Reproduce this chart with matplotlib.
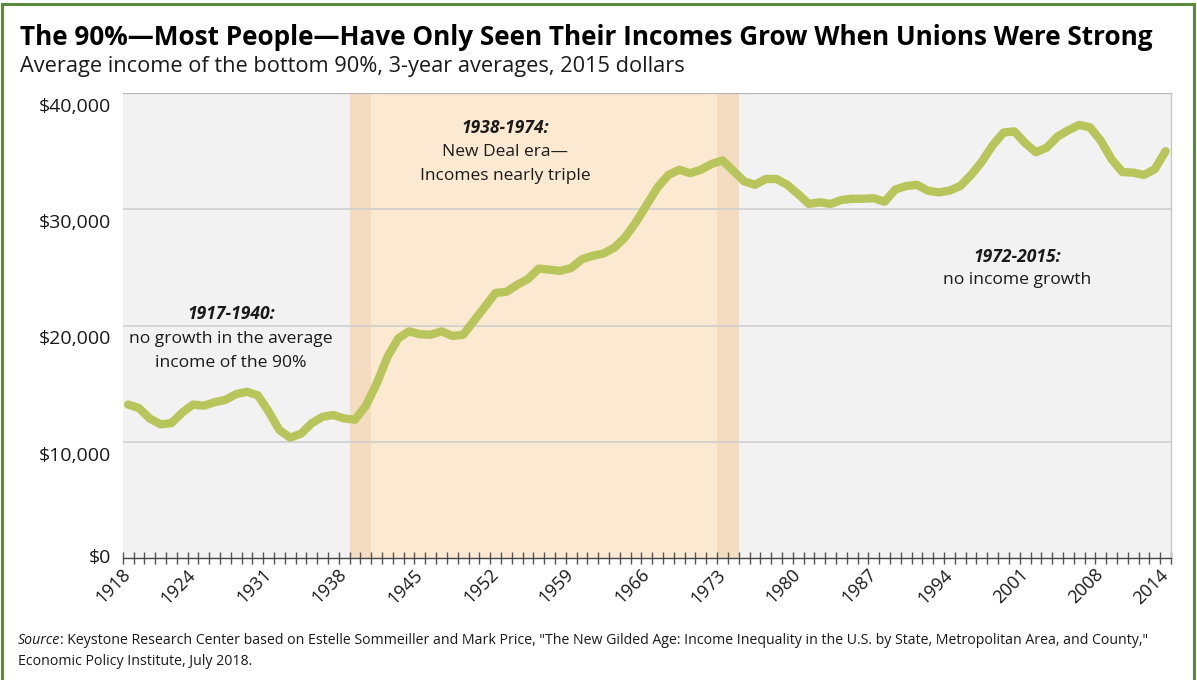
import matplotlib
matplotlib.use("Agg")
import matplotlib.pyplot as plt
from matplotlib.patches import Rectangle
from matplotlib.transforms import ScaledTranslation, blended_transform_factory

# ---------------- data ----------------
years = list(range(1918, 2015))
income_k = [
    13.2, 12.9, 12.0, 11.5, 11.6, 12.5, 13.2, 13.1, 13.4, 13.6,   # 1918-1927
    14.1, 14.3, 14.0, 12.6, 11.0, 10.35, 10.7, 11.6, 12.15, 12.3,  # 1928-1937
    12.0, 11.9, 13.1, 15.0, 17.3, 18.9, 19.5, 19.25, 19.2, 19.5,   # 1938-1947
    19.1, 19.2, 20.4, 21.6, 22.8, 22.9, 23.5, 24.0, 24.9, 24.8,    # 1948-1957
    24.7, 24.95, 25.7, 26.0, 26.2, 26.7, 27.6, 28.9, 30.4, 31.9,   # 1958-1967
    32.95, 33.4, 33.1, 33.4, 33.9, 34.2, 33.3, 32.4, 32.1, 32.6,   # 1968-1977
    32.6, 32.1, 31.3, 30.45, 30.6, 30.45, 30.8, 30.9, 30.9, 30.95, # 1978-1987
    30.65, 31.7, 32.0, 32.1, 31.6, 31.45, 31.6, 32.0, 32.95, 34.1, # 1988-1997
    35.5, 36.6, 36.7, 35.7, 34.9, 35.3, 36.25, 36.8, 37.25, 37.05, # 1998-2007
    35.9, 34.3, 33.2, 33.15, 32.95, 33.45, 35.0                    # 2008-2014
]
income = [v * 1000 for v in income_k]

ytick_values = [0, 10000, 20000, 30000, 40000]
ytick_labels = ["$0", "$10,000", "$20,000", "$30,000", "$40,000"]
xtick_years = [1918, 1924, 1931, 1938, 1945, 1952, 1959, 1966, 1973,
               1980, 1987, 1994, 2001, 2008, 2014]

# eras (category boundaries)
era_pre = (1917.5, 1940.5)
era_newdeal = (1938.5, 1974.5)
era_post = (1972.5, 2014.5)

title = "The 90%\u2014Most People\u2014Have Only Seen Their Incomes Grow When Unions Were Strong"
subtitle = "Average income of the bottom 90%, 3-year averages, 2015 dollars"
ann_pre = ["1917-1940:", "no growth in the average", "income of the 90%"]
ann_nd = ["1938-1974:", "New Deal era\u2014", "Incomes nearly triple"]
ann_post = ["1972-2015:", "no income growth"]
source_it = "Source"
source_rest = (": Keystone Research Center based on Estelle Sommeiller and Mark Price, "
               "\"The New Gilded Age: Income Inequality in the U.S. by State, Metropolitan Area, and County,\"")
source_line2 = "Economic Policy Institute, July 2018."

# ---------------- styling ----------------
FONT = ["Open Sans", "DejaVu Sans"]
plt.rcParams["font.family"] = FONT
W, H = 1197, 680
GRAY = "#F2F2F2"
ORANGE = "#FBE9D2"
OVERLAP = "#F4DCC1"
LINE = "#B8C55A"
TXT = "#1a1a1a"

fig = plt.figure(figsize=(W / 100, H / 100), dpi=100)
fig.patch.set_facecolor("white")
renderer = fig.canvas.get_renderer()

def px(x, y):
    return x / W, 1 - y / H

def fit(t, target_w):
    bb = t.get_window_extent(renderer)
    t.set_fontsize(t.get_fontsize() * target_w / bb.width)
    return t

# figure border
fig.patches.append(Rectangle((2 / W, -0.02), (W - 5) / W, 1 - 4 / H + 0.02,
                             transform=fig.transFigure, fill=False,
                             edgecolor="#5A8A3C", linewidth=2.2))

ax_left, ax_right, ax_top, ax_bottom = 122.7, 1171, 93, 558
ax = fig.add_axes([ax_left / W, 1 - ax_bottom / H,
                   (ax_right - ax_left) / W, (ax_bottom - ax_top) / H])
ax.set_facecolor("white")
ax.set_xlim(era_pre[0], era_post[1])
ax.set_ylim(ytick_values[0], ytick_values[-1])

# background spans
ax.axvspan(era_pre[0], era_newdeal[0], color=GRAY, lw=0, zorder=0)
ax.axvspan(era_newdeal[0], era_pre[1], color=OVERLAP, lw=0, zorder=0)
ax.axvspan(era_pre[1], era_post[0], color=ORANGE, lw=0, zorder=0)
ax.axvspan(era_post[0], era_newdeal[1], color=OVERLAP, lw=0, zorder=0)
ax.axvspan(era_newdeal[1], era_post[1], color=GRAY, lw=0, zorder=0)

# gridlines
for v in ytick_values[1:-1]:
    ax.axhline(v, color="#CFCFCF", lw=1.2, zorder=1)
ax.axhline(ytick_values[-1], color="#B5B5B5", lw=1.6, zorder=1)

# data line
ax.plot(years, income, color=LINE, lw=6, solid_joinstyle="round",
        solid_capstyle="round", zorder=5, clip_on=False)

# spines
for s in ["left", "top"]:
    ax.spines[s].set_visible(False)
ax.spines["bottom"].set_color("#444444")
ax.spines["bottom"].set_linewidth(1.0)
ax.spines["right"].set_color("#C8C8C8")
ax.spines["right"].set_linewidth(1.0)

# y tick labels (drawn as text so they can sit just under the gridlines)
ax.set_yticks([])
ytrans = blended_transform_factory(ax.transAxes, ax.transData)
for v, lab in zip(ytick_values, ytick_labels):
    off = 0 if v == 0 else -14 / 100
    ax.text(-12 / (ax_right - ax_left), v, lab, ha="right", va="center",
            fontsize=14, color=TXT,
            transform=ytrans + ScaledTranslation(0, off, fig.dpi_scale_trans))

# x ticks
minor_pos = [y - 0.5 for y in years] + [years[-1] + 0.5]
ax.set_xticks(minor_pos, minor=True)
ax.set_xticks(xtick_years)
ax.set_xticklabels([str(y) for y in xtick_years], rotation=45, ha="right",
                   va="center", rotation_mode="anchor", fontsize=13, color=TXT)
ax.tick_params(axis="x", which="major", length=0, pad=10)
ax.tick_params(axis="x", which="minor", direction="inout", length=8.6,
               width=1, color="#555555")

# title & subtitle
t = fig.text(*px(20, 45), title, fontsize=16, fontweight="bold", color="black",
             ha="left", va="baseline")
fit(t, 1157 - 20)
t = fig.text(*px(20, 72), subtitle, fontsize=13, color=TXT, ha="left", va="baseline")
fit(t, 681 - 20)

# annotations
def block(lines, cx, base, step, width_line, width):
    probe = fig.text(0, 0, lines[width_line], fontsize=12)
    fit(probe, width)
    fs = probe.get_fontsize()
    probe.remove()
    for i, line in enumerate(lines):
        kw = dict(fontweight="bold", style="italic") if i == 0 else {}
        fig.text(*px(cx, base + i * step), line, fontsize=fs, color=TXT,
                 ha="center", va="baseline", **kw)

block(ann_pre, 231, 319, 24, 1, 203)
block(ann_nd, 505, 133, 23.5, 2, 169)
block(ann_post, 1017, 262, 22, 1, 147)

# source
s1 = fig.text(*px(18, 644), source_it, fontsize=10, style="italic", color=TXT,
              ha="left", va="baseline")
s2 = fig.text(*px(18, 644), source_rest, fontsize=10, color=TXT, ha="left", va="baseline")
w1 = s1.get_window_extent(renderer).width
w2 = s2.get_window_extent(renderer).width
scale = (1146 - 18) / (w1 + w2)
s1.set_fontsize(10 * scale)
s2.set_fontsize(10 * scale)
w1 = s1.get_window_extent(renderer).width
s2.set_position(((18 + w1) / W, 1 - 644 / H))
fig.text(*px(18, 665), source_line2, fontsize=10 * scale, color=TXT,
         ha="left", va="baseline")

fig.savefig("out.png", dpi=100)
